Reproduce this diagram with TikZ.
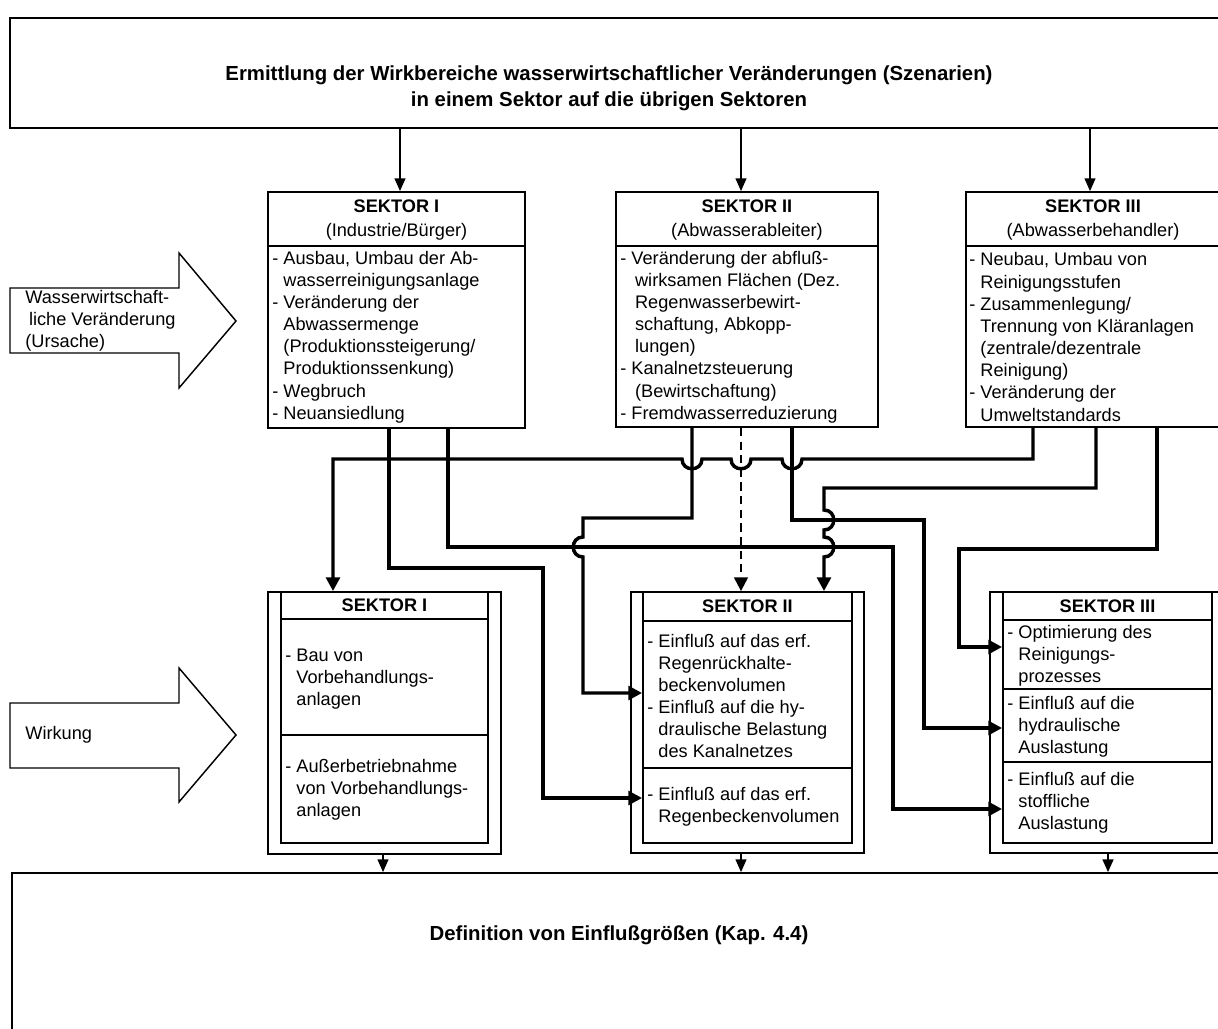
\documentclass[tikz,border=0pt]{standalone}
\usepackage{fontspec}
\setmainfont{Liberation Sans}
\usetikzlibrary{arrows.meta, fit}
\tikzstyle{frame} = [draw, line width=1pt, inner sep=0pt]
\tikzstyle{txt} = [inner sep=0pt, align=left, anchor=west]
\tikzstyle{head} = [inner sep=0pt, align=center, font=\fontsize{10}{13.2}\selectfont]
\tikzstyle{titletext} = [inner sep=0pt, align=center, font=\fontsize{11.2}{14.3}\selectfont\bfseries]
\tikzstyle{link} = [line width=1.9pt, -{Triangle[length=7.5pt, width=7.5pt]}]
\tikzstyle{feed} = [line width=0.7pt, -{Triangle[length=7pt, width=6pt]}]
\newcommand{\ind}{\hphantom{- }}

\begin{document}
\begin{tikzpicture}[x=0.55pt, y=-0.55pt, font=\fontsize{10}{12.2}\selectfont]
      \useasboundingbox (0,0) rectangle (1218,1028);
      \clip (0,0) rectangle (1218,1028);

      % top and bottom frames
      \node[frame, fit={(10,18) (1240,128)}] (szenario) {};
      \node[titletext] (titel) at (609,88) {Ermittlung der Wirkbereiche wasserwirtschaftlicher Veränderungen (Szenarien)\\in einem Sektor auf die übrigen Sektoren};
      \node[frame, fit={(12,873) (1240,1045)}] (einfluss) {};
      \node[titletext] (definition) at (619,935) {Definition von Einflußgrößen (Kap. 4.4)};

      % big arrows on the left
      \draw[line width=0.8pt] (10,288) -- (179,288) -- (179,253) -- (236,321) -- (179,388) -- (179,353) -- (10,353) -- cycle;
      \node[txt] (ursache) at (25,321) {Wasserwirtschaft-\\\hspace*{2pt}liche Veränderung\\(Ursache)};
      \draw[line width=0.8pt] (10,703) -- (179,703) -- (179,668) -- (236,735) -- (179,802) -- (179,768) -- (10,768) -- cycle;
      \node[txt] (wirkung) at (25,735) {Wirkung};

      % sectors, upper row
      \node[frame, fit={(268,192) (525,428)}] (sektor1) {};
      \draw[line width=1pt] (sektor1.west |- 0,246) -- (sektor1.east |- 0,246);
      \node[head] (kopf1) at (396.5,220) {\textbf{SEKTOR I}\\(Industrie/Bürger)};
      \node[txt] (inhalt1) at (272,337) {- Ausbau, Umbau der Ab-\\\ind wasserreinigungsanlage\\- Veränderung der\\\ind Abwassermenge\\\ind (Produktionssteigerung/\\\ind Produktionssenkung)\\- Wegbruch\\- Neuansiedlung};

      \node[frame, fit={(616,192) (878,427)}] (sektor2) {};
      \draw[line width=1pt] (sektor2.west |- 0,246) -- (sektor2.east |- 0,246);
      \node[head] (kopf2) at (747,220) {\textbf{SEKTOR II}\\(Abwasserableiter)};
      \node[txt] (inhalt2) at (620,337) {- Veränderung der abfluß-\\\ind\hspace{2pt}wirksamen Flächen (Dez.\\\ind\hspace{2pt}Regenwasserbewirt-\\\ind\hspace{2pt}schaftung, Abkopp-\\\ind\hspace{2pt}lungen)\\- Kanalnetzsteuerung\\\ind\hspace{2pt}(Bewirtschaftung)\\- Fremdwasserreduzierung};

      \node[frame, fit={(966,192) (1220,427)}] (sektor3) {};
      \draw[line width=1pt] (sektor3.west |- 0,246) -- (sektor3.east |- 0,246);
      \node[head] (kopf3) at (1093,220) {\textbf{SEKTOR III}\\(Abwasserbehandler)};
      \node[txt] (inhalt3) at (969,337) {- Neubau, Umbau von\\\ind Reinigungsstufen\\- Zusammenlegung/\\\ind Trennung von Kläranlagen\\\ind (zentrale/dezentrale\\\ind Reinigung)\\- Veränderung der\\\ind Umweltstandards};

      % sectors, lower row
      \node[frame, fit={(268,592) (501,854)}] (wirkung1) {};
      \node[frame, fit={(281,592) (488,843)}] (innen1) {};
      \draw[line width=1pt] (innen1.west |- 0,619) -- (innen1.east |- 0,619);
      \draw[line width=1pt] (innen1.west |- 0,735) -- (innen1.east |- 0,735);
      \node[head] (unten1) at (384.5,605.5) {\textbf{SEKTOR I}};
      \node[txt] (bau) at (285,679) {- Bau von\\\ind Vorbehandlungs-\\\ind anlagen};
      \node[txt] (stilllegung) at (285,790) {- Außerbetriebnahme\\\ind von Vorbehandlungs-\\\ind anlagen};

      \node[frame, fit={(631,592) (864,853)}] (wirkung2) {};
      \node[frame, fit={(643,592) (852,843)}] (innen2) {};
      \draw[line width=1pt] (innen2.west |- 0,621) -- (innen2.east |- 0,621);
      \draw[line width=1pt] (innen2.west |- 0,768) -- (innen2.east |- 0,768);
      \node[head] (unten2) at (747.5,606.5) {\textbf{SEKTOR II}};
      \node[txt] (becken) at (647,696) {- Einfluß auf das erf.\\\ind Regenrückhalte-\\\ind beckenvolumen\\- Einfluß auf die hy-\\\ind draulische Belastung\\\ind des Kanalnetzes};
      \node[txt] (regenbecken) at (647,807) {- Einfluß auf das erf.\\\ind Regenbeckenvolumen};

      \node[frame, fit={(990,592) (1225,853)}] (wirkung3) {};
      \node[frame, fit={(1003,592) (1212,843)}] (innen3) {};
      \draw[line width=1pt] (innen3.west |- 0,620) -- (innen3.east |- 0,620);
      \draw[line width=1pt] (innen3.west |- 0,689) -- (innen3.east |- 0,689);
      \draw[line width=1pt] (innen3.west |- 0,762) -- (innen3.east |- 0,762);
      \node[head] (unten3) at (1107.5,606) {\textbf{SEKTOR III}};
      \node[txt] (prozess) at (1007,656) {- Optimierung des\\\ind Reinigungs-\\\ind prozesses};
      \node[txt] (hydraulik) at (1007,727) {- Einfluß auf die\\\ind hydraulische\\\ind Auslastung};
      \node[txt] (stoff) at (1007,803) {- Einfluß auf die\\\ind stoffliche\\\ind Auslastung};

      % thin arrows in and out
      \draw[feed] (szenario.south -| 400,0) -- (sektor1.north -| 400,0);
      \draw[feed] (szenario.south -| 741,0) -- (sektor2.north -| 741,0);
      \draw[feed] (szenario.south -| 1090,0) -- (sektor3.north -| 1090,0);
      \draw[feed] (wirkung1.south -| 383,0) -- (einfluss.north -| 383,0);
      \draw[feed] (wirkung2.south -| 741,0) -- (einfluss.north -| 741,0);
      \draw[feed, line width=1pt] (wirkung3.south -| 1108,0) -- (einfluss.north -| 1108,0);

      % links between the sectors
      \draw[link] (sektor3.south -| 1033,0) -- (1033,459) -- (802,459) .. controls (802,472) and (782,472) .. (782,459) -- (751,459) .. controls (751,472) and (731,472) .. (731,459) -- (702,459) .. controls (702,472) and (682,472) .. (682,459) -- (333,459) -- (wirkung1.north -| 333,0);
      \draw[link] (sektor1.south -| 389,0) |- (543,568) |- (innen2.west |- 0,798);
      \draw[link] (sektor1.south -| 448,0) |- (893,547) |- (innen3.west |- 0,809);
      \draw[link] (sektor2.south -| 692,0) |- (583,518) -- (583,537) .. controls (570,537) and (570,557) .. (583,557) |- (innen2.west |- 0,693);
      \draw[link, line width=1.2pt, dash pattern=on 4.5pt off 3pt] (sektor2.south -| 741,0) -- (wirkung2.north -| 741,0);
      \draw[link] (sektor2.south -| 792,0) |- (924,520) |- (innen3.west |- 0,728);
      \draw[link] (sektor3.south -| 1096,0) |- (824,488) -- (824,510) .. controls (837,510) and (837,530) .. (824,530) -- (824,537) .. controls (837,537) and (837,557) .. (824,557) -- (wirkung2.north -| 824,0);
      \draw[link] (sektor3.south -| 1157,0) |- (959,549) |- (innen3.west |- 0,647);
    \end{tikzpicture}
\end{document}
